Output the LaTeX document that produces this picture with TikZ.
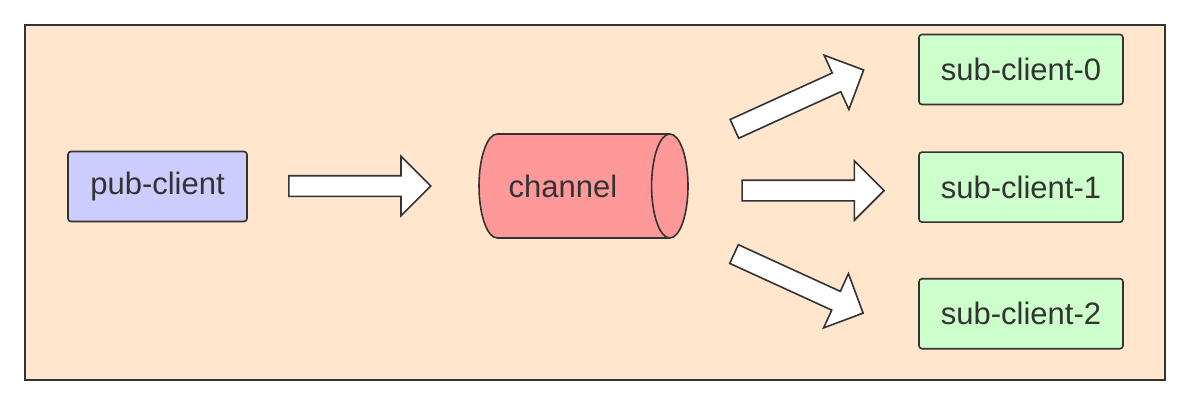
\documentclass[tikz,border=0pt]{standalone}
\usepackage{fontspec}
\setmainfont{Liberation Sans}
\usetikzlibrary{positioning,shapes.geometric,shapes.arrows}
\definecolor{Peach}{HTML}{FFE6CC}
\definecolor{Lavender}{HTML}{CCCCFF}
\definecolor{Salmon}{HTML}{FF9999}
\definecolor{Mint}{HTML}{CCFFCC}
\definecolor{DarkGray}{HTML}{333333}

\begin{document}
\begin{tikzpicture}[
  x=1pt, y=-1pt,
  font=\fontsize{31}{36}\selectfont,
  box/.style={draw=DarkGray, line width=1.6pt, rounded corners=3pt, text=DarkGray, minimum height=70pt, inner sep=0pt},
  bigarr/.style={single arrow, draw=DarkGray, fill=white, line width=1.6pt, minimum height=142pt, minimum width=58pt, single arrow head extend=19.5pt, inner sep=0pt, inner ysep=9.5pt, anchor=tail}
]
\useasboundingbox (0,0) rectangle (1190,405);
\draw[DarkGray, fill=Peach, line width=1.6pt] (25,25) rectangle (1165,380);

\node[box, fill=Lavender, minimum width=179pt] (pub) at (157.5,186.5) {pub-client};
\node[cylinder, draw=DarkGray, fill=Salmon, line width=1.6pt, text=DarkGray, minimum width=104pt, minimum height=209pt, aspect=1.6, inner sep=0pt] (chan) at (574,186) {channel\hspace*{22pt}};
\node[box, fill=Mint, minimum width=204pt] (sub0) at (1021,69.5) {sub-client-0};
\node[box, fill=Mint, minimum width=204pt, below=46pt of sub0] (sub1) {sub-client-1};
\node[box, fill=Mint, minimum width=204pt, below=55pt of sub1] (sub2) {sub-client-2};

\node[bigarr] (pubarr) at (288,186) {};
\node[bigarr, rotate=24.5] (arr0) at (733.7,129.2) {};
\node[bigarr] (arr1) at (741.3,190.5) {};
\node[bigarr, rotate=-24.6] (arr2) at (733.3,253.7) {};
\end{tikzpicture}
\end{document}
